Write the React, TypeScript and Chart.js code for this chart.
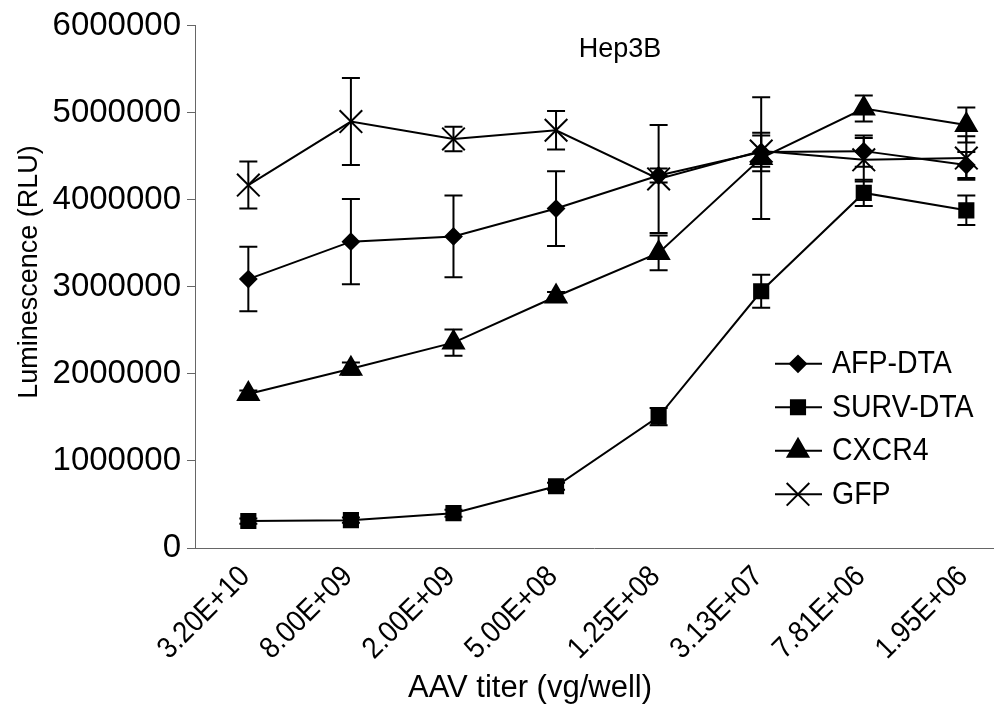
import React, { useEffect, useRef } from "react";
import { Chart, registerables } from "chart.js";
import { drawPoint } from "chart.js/helpers";

Chart.register(...registerables);

const titerLabels = ["3.20E+10", "8.00E+09", "2.00E+09", "5.00E+08", "1.25E+08", "3.13E+07", "7.81E+06", "1.95E+06"];
const seriesNames = ["AFP-DTA", "SURV-DTA", "CXCR4", "GFP"];
const afpValues = [3090000, 3520000, 3580000, 3900000, 4280000, 4550000, 4560000, 4400000];
const afpErrors = [370000, 490000, 470000, 430000, 80000, 220000, 180000, 150000];
const survValues = [310000, 320000, 400000, 710000, 1510000, 2950000, 4080000, 3880000];
const survErrors = [30000, 30000, 40000, 40000, 100000, 190000, 150000, 170000];
const cxcr4Values = [1770000, 2060000, 2360000, 2890000, 3390000, 4480000, 5050000, 4860000];
const cxcr4Errors = [40000, 70000, 150000, 50000, 200000, 700000, 150000, 200000];
const gfpValues = [4170000, 4900000, 4700000, 4800000, 4240000, 4560000, 4460000, 4480000];
const gfpErrors = [270000, 500000, 140000, 220000, 620000, 180000, 250000, 250000];
const yTicks = [0, 1000000, 2000000, 3000000, 4000000, 5000000, 6000000];

const chartTitle = "Hep3B";
const xTitle = "AAV titer (vg/well)";
const yTitle = "Luminescence (RLU)";

const SANS = "'Liberation Sans', Arial, sans-serif";

const allValues = [afpValues, survValues, cxcr4Values, gfpValues];
const allErrors = [afpErrors, survErrors, cxcr4Errors, gfpErrors];
const styles = [
  { pointStyle: "rectRot", radius: 8 },
  { pointStyle: "rect", radius: 10 },
  { pointStyle: "triangle", radius: 12 },
  { pointStyle: "crossRot", radius: 16 },
];

const errorBarPlugin = {
  id: "errorBars",
  beforeDatasetsDraw(chart: any) {
    const ctx = chart.ctx;
    const xs = chart.scales.x;
    const ys = chart.scales.y;
    ctx.save();
    ctx.strokeStyle = "#000";
    ctx.lineWidth = 2;
    chart.data.datasets.forEach((ds: any, di: number) => {
      const errs = allErrors[di];
      ds.data.forEach((pt: any, i: number) => {
        const px = xs.getPixelForValue(pt.x);
        const top = ys.getPixelForValue(pt.y + errs[i]);
        const bot = ys.getPixelForValue(pt.y - errs[i]);
        ctx.beginPath();
        ctx.moveTo(px, top);
        ctx.lineTo(px, bot);
        ctx.moveTo(px - 9, top);
        ctx.lineTo(px + 9, top);
        ctx.moveTo(px - 9, bot);
        ctx.lineTo(px + 9, bot);
        ctx.stroke();
      });
    });
    ctx.restore();
  },
};

const decorPlugin = {
  id: "decor",
  afterDraw(chart: any) {
    const ctx = chart.ctx;
    const area = chart.chartArea;
    const xs = chart.scales.x;
    ctx.save();
    ctx.fillStyle = "#000";
    // x tick labels (rotated)
    titerLabels.forEach((lab, i) => {
      const px = xs.getPixelForValue(i);
      ctx.save();
      ctx.translate(px - 3, area.bottom + 24);
      ctx.rotate(-Math.PI / 4);
      ctx.scale(0.9, 1);
      ctx.font = `30px ${SANS}`;
      ctx.textAlign = "right";
      ctx.textBaseline = "middle";
      ctx.fillText(lab, 0, 0);
      ctx.restore();
    });
    // title
    ctx.font = `27px ${SANS}`;
    ctx.textAlign = "center";
    ctx.textBaseline = "middle";
    ctx.fillText(chartTitle, 620, area.top + 24);
    // x title
    ctx.font = `31px ${SANS}`;
    ctx.fillText(xTitle, 530, 688);
    // y title
    ctx.save();
    ctx.translate(30, 272);
    ctx.rotate(-Math.PI / 2);
    ctx.font = `27px ${SANS}`;
    ctx.fillText(yTitle, 0, 0);
    ctx.restore();
    // legend
    const lx = 775;
    const ly = area.top + 338;
    chart.data.datasets.forEach((ds: any, i: number) => {
      const y = ly + i * 43.5;
      ctx.strokeStyle = "#000";
      ctx.lineWidth = 2;
      ctx.beginPath();
      ctx.moveTo(lx, y);
      ctx.lineTo(lx + 47, y);
      ctx.stroke();
      drawPoint(ctx, {
        pointStyle: ds.pointStyle,
        radius: ds.pointRadius,
        borderWidth: 2,
        rotation: 0,
      } as any, lx + 23, y);
      ctx.fillStyle = "#000";
      if (ds.pointStyle !== "crossRot") ctx.fill();
      ctx.save();
      ctx.translate(lx + 57, y + 1);
      ctx.scale(0.92, 1);
      ctx.font = `31px ${SANS}`;
      ctx.textAlign = "left";
      ctx.textBaseline = "middle";
      ctx.fillText(ds.label, 0, 0);
      ctx.restore();
    });
    ctx.restore();
  },
};

export default function App() {
  const ref = useRef<HTMLCanvasElement>(null);
  useEffect(() => {
    if (!ref.current) return;
    const datasets = seriesNames.map((name, di) => ({
      label: name,
      data: allValues[di].map((v, i) => ({ x: i, y: v })),
      borderColor: "#000",
      backgroundColor: "#000",
      borderWidth: 2,
      pointStyle: styles[di].pointStyle,
      pointRadius: styles[di].radius,
      pointBorderWidth: 2,
      pointBorderColor: "#000",
      pointBackgroundColor: "#000",
      tension: 0,
      clip: false,
    }));
    const chart = new Chart(ref.current, {
      type: "line",
      data: { datasets },
      options: {
        animation: false,
        responsive: false,
        maintainAspectRatio: false,
        layout: { autoPadding: false, padding: { top: 22, right: 2, left: 0, bottom: 0 } },
        plugins: { legend: { display: false }, title: { display: false }, tooltip: { enabled: false } },
        scales: {
          x: {
            type: "linear",
            min: -0.52,
            max: 7.26,
            grid: { display: false, drawTicks: false },
            border: { display: true, color: "#666", width: 1, dash: [3, 1] },
            afterBuildTicks: (scale: any) => {
              scale.ticks = titerLabels.map((_, i) => ({ value: i }));
            },
            afterFit: (scale: any) => {
              scale.height = 156;
              scale.paddingRight = 0;
              scale.paddingLeft = 0;
            },
            ticks: { display: false },
          },
          y: {
            min: 0,
            max: 6000000,
            grid: { display: true, drawOnChartArea: false, drawTicks: true, tickLength: 8, color: "#666" },
            border: { display: true, color: "#666", width: 1, dash: [3, 1] },
            afterBuildTicks: (scale: any) => {
              scale.ticks = yTicks.map((v) => ({ value: v }));
            },
            afterFit: (scale: any) => {
              scale.width = 195;
            },
            ticks: {
              padding: 6,
              color: "#000",
              font: { family: SANS, size: 33 },
              callback: (v: any) => String(v),
            },
          },
        },
      } as any,
      plugins: [errorBarPlugin, decorPlugin],
    });
    return () => chart.destroy();
  }, []);
  return (
    <div style={{ position: "fixed", left: 0, top: 0, width: 995, height: 704, background: "#fff" }}>
      <canvas ref={ref} width={995} height={704} style={{ width: 995, height: 704 }} />
    </div>
  );
}
